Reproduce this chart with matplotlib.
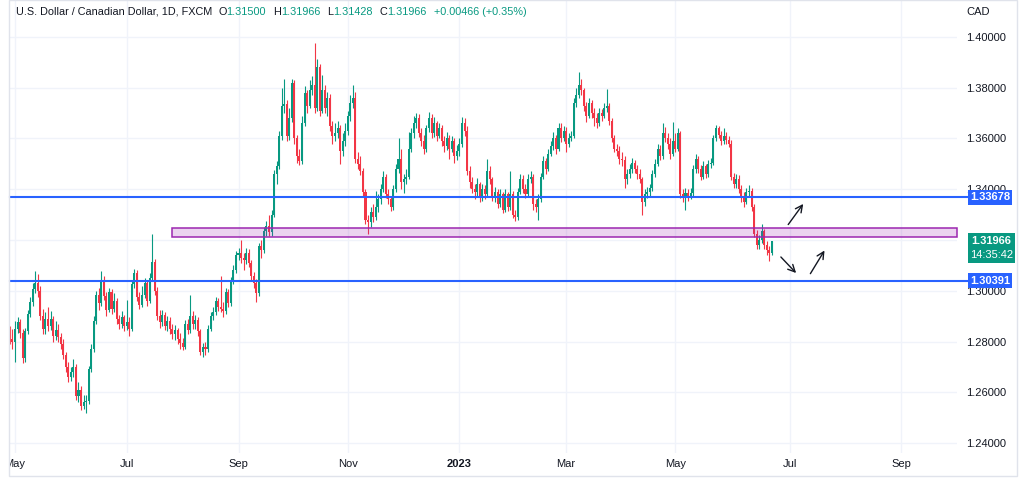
import matplotlib
matplotlib.use('Agg')
import matplotlib.pyplot as plt
import matplotlib.transforms as mtransforms
from matplotlib.patches import Rectangle
import numpy as np
import pandas as pd

plt.rcParams['font.family'] = ['Liberation Sans', 'DejaVu Sans']

GREEN = '#089981'
RED = '#F23645'
BLUE = '#2962FF'
TEXT = '#131722'
GRID = '#F0F3FA'

# daily USD/CAD bars, 2022-04-28 .. 2023-06-22 (one row per month)
first_date = '2022-04-28'
first_open = 1.2835
closes = [
    1.2810, 1.2800,
    1.2850, 1.2876, 1.2835, 1.2735, 1.2840, 1.2910, 1.2955, 1.3005, 1.3030, 1.3000, 1.2900, 1.2850, 1.2890, 1.2860, 1.2890, 1.2820, 1.2845, 1.2818, 1.2790, 1.2745, 1.2700, 1.2660,
    1.2680, 1.2700, 1.2585, 1.2610, 1.2545, 1.2560, 1.2565, 1.2690, 1.2770, 1.2880, 1.2985, 1.2950, 1.3040, 1.2980, 1.2925, 1.2995, 1.2930, 1.2960, 1.2890, 1.2870, 1.2895, 1.2860,
    1.2875, 1.2850, 1.3025, 1.3070, 1.2975, 1.2945, 1.2985, 1.3030, 1.2960, 1.3050, 1.3115, 1.3000, 1.2900, 1.2875, 1.2905, 1.2860, 1.2880, 1.2850, 1.2830, 1.2845, 1.2810,
    1.2795, 1.2780, 1.2870, 1.2845, 1.2900, 1.2870, 1.2885, 1.2840, 1.2760, 1.2780, 1.2770, 1.2850, 1.2900, 1.2915, 1.2960, 1.2935, 1.2930, 1.2920, 1.2995, 1.2950, 1.3040, 1.3080, 1.3140,
    1.3150, 1.3130, 1.3120, 1.3150, 1.3110, 1.3060, 1.3030, 1.2990, 1.3175, 1.3160, 1.3235, 1.3255, 1.3230, 1.3300, 1.3460, 1.3490, 1.3610, 1.3730, 1.3735, 1.3610, 1.3680, 1.3820,
    1.3600, 1.3530, 1.3510, 1.3660, 1.3780, 1.3730, 1.3790, 1.3810, 1.3720, 1.3880, 1.3710, 1.3790, 1.3720, 1.3760, 1.3650, 1.3610, 1.3620, 1.3640, 1.3550, 1.3590, 1.3630,
    1.3690, 1.3740, 1.3760, 1.3520, 1.3500, 1.3470, 1.3390, 1.3280, 1.3270, 1.3310, 1.3290, 1.3330, 1.3360, 1.3400, 1.3450, 1.3380, 1.3360, 1.3330, 1.3400, 1.3480, 1.3520, 1.3430,
    1.3440, 1.3450, 1.3560, 1.3620, 1.3660, 1.3680, 1.3620, 1.3590, 1.3560, 1.3640, 1.3680, 1.3620, 1.3660, 1.3610, 1.3640, 1.3590, 1.3570, 1.3600, 1.3560, 1.3590, 1.3530, 1.3550,
    1.3580, 1.3660, 1.3630, 1.3470, 1.3430, 1.3400, 1.3390, 1.3420, 1.3370, 1.3400, 1.3380, 1.3470, 1.3440, 1.3370, 1.3390, 1.3340, 1.3380, 1.3320, 1.3380, 1.3330, 1.3380, 1.3300,
    1.3290, 1.3390, 1.3440, 1.3400, 1.3380, 1.3440, 1.3450, 1.3340, 1.3330, 1.3360, 1.3450, 1.3510, 1.3480, 1.3540, 1.3570, 1.3600, 1.3560, 1.3640, 1.3600, 1.3630,
    1.3580, 1.3600, 1.3610, 1.3740, 1.3770, 1.3810, 1.3790, 1.3730, 1.3690, 1.3740, 1.3700, 1.3680, 1.3660, 1.3700, 1.3690, 1.3720, 1.3730, 1.3670, 1.3600, 1.3560, 1.3550, 1.3520, 1.3515,
    1.3440, 1.3460, 1.3480, 1.3505, 1.3480, 1.3460, 1.3440, 1.3350, 1.3380, 1.3390, 1.3405, 1.3460, 1.3500, 1.3560, 1.3530, 1.3620, 1.3600, 1.3580, 1.3540, 1.3590,
    1.3560, 1.3620, 1.3380, 1.3370, 1.3385, 1.3375, 1.3385, 1.3480, 1.3520, 1.3480, 1.3450, 1.3490, 1.3460, 1.3500, 1.3505, 1.3600, 1.3640, 1.3615, 1.3590, 1.3610, 1.3595, 1.3580, 1.3450,
    1.3420, 1.3440, 1.3400, 1.3370, 1.3350, 1.3390, 1.3395, 1.3330, 1.3225, 1.3180, 1.3200, 1.3235, 1.3180, 1.3160, 1.3150, 1.31966,
]
highs = [
    1.2860, 1.2850,
    1.2880, 1.2895, 1.2890, 1.2850, 1.2855, 1.2925, 1.2975, 1.3030, 1.3077, 1.3065, 1.3020, 1.2930, 1.2915, 1.2935, 1.2920, 1.2900, 1.2880, 1.2870, 1.2835, 1.2810, 1.2760, 1.2720,
    1.2700, 1.2730, 1.2710, 1.2640, 1.2625, 1.2590, 1.2590, 1.2705, 1.2790, 1.2900, 1.3000, 1.3010, 1.3078, 1.3060, 1.2995, 1.3010, 1.3005, 1.2990, 1.2970, 1.2905, 1.2920, 1.2905,
    1.2965, 1.2895, 1.3040, 1.3085, 1.3080, 1.2995, 1.3020, 1.3050, 1.3040, 1.3070, 1.3224, 1.3125, 1.3015, 1.2925, 1.2925, 1.2915, 1.2900, 1.2895, 1.2870, 1.2865, 1.2855,
    1.2835, 1.2815, 1.2885, 1.2890, 1.2985, 1.2920, 1.2905, 1.2895, 1.2850, 1.2795, 1.2800, 1.2865, 1.2915, 1.2935, 1.2975, 1.2970, 1.3060, 1.2955, 1.3010, 1.3005, 1.3055, 1.3100, 1.3155,
    1.3170, 1.3200, 1.3150, 1.3170, 1.3165, 1.3120, 1.3075, 1.3045, 1.3190, 1.3200, 1.3250, 1.3275, 1.3300, 1.3320, 1.3475, 1.3510, 1.3630, 1.3800, 1.3835, 1.3750, 1.3720, 1.3835,
    1.3830, 1.3615, 1.3560, 1.3690, 1.3805, 1.3790, 1.3830, 1.3845, 1.3977, 1.3915, 1.3895, 1.3850, 1.3810, 1.3785, 1.3775, 1.3670, 1.3660, 1.3670, 1.3655, 1.3620, 1.3660,
    1.3710, 1.3770, 1.3810, 1.3785, 1.3545, 1.3530, 1.3485, 1.3400, 1.3300, 1.3330, 1.3340, 1.3395, 1.3380, 1.3420, 1.3470, 1.3460, 1.3400, 1.3375, 1.3415, 1.3500, 1.3600, 1.3560,
    1.3460, 1.3480, 1.3625, 1.3640, 1.3690, 1.3700, 1.3695, 1.3640, 1.3615, 1.3655, 1.3703, 1.3695, 1.3685, 1.3670, 1.3660, 1.3655, 1.3610, 1.3625, 1.3615, 1.3610, 1.3600, 1.3575,
    1.3600, 1.3685, 1.3680, 1.3650, 1.3490, 1.3450, 1.3420, 1.3445, 1.3430, 1.3420, 1.3415, 1.3520, 1.3490, 1.3450, 1.3410, 1.3400, 1.3400, 1.3390, 1.3400, 1.3390, 1.3470, 1.3395,
    1.3320, 1.3405, 1.3460, 1.3455, 1.3420, 1.3460, 1.3470, 1.3460, 1.3360, 1.3380, 1.3465, 1.3530, 1.3525, 1.3560, 1.3590, 1.3625, 1.3615, 1.3660, 1.3660, 1.3650,
    1.3645, 1.3620, 1.3630, 1.3760, 1.3800, 1.3862, 1.3835, 1.3800, 1.3745, 1.3760, 1.3750, 1.3720, 1.3700, 1.3720, 1.3715, 1.3740, 1.3795, 1.3740, 1.3680, 1.3615, 1.3580, 1.3570, 1.3545,
    1.3530, 1.3480, 1.3500, 1.3525, 1.3515, 1.3495, 1.3480, 1.3450, 1.3400, 1.3410, 1.3420, 1.3475, 1.3520, 1.3580, 1.3575, 1.3660, 1.3645, 1.3620, 1.3600, 1.3665,
    1.3620, 1.3640, 1.3630, 1.3400, 1.3405, 1.3400, 1.3405, 1.3495, 1.3540, 1.3530, 1.3495, 1.3510, 1.3500, 1.3515, 1.3525, 1.3615, 1.3655, 1.3650, 1.3630, 1.3640, 1.3625, 1.3610, 1.3595,
    1.3465, 1.3460, 1.3455, 1.3415, 1.3390, 1.3405, 1.3415, 1.3405, 1.3340, 1.3240, 1.3220, 1.3265, 1.3245, 1.3195, 1.3175, 1.31966,
]
lows = [
    1.2790, 1.2770,
    1.2720, 1.2835, 1.2815, 1.2715, 1.2720, 1.2830, 1.2895, 1.2940, 1.2990, 1.2975, 1.2885, 1.2830, 1.2830, 1.2840, 1.2845, 1.2800, 1.2805, 1.2800, 1.2770, 1.2730, 1.2680, 1.2640,
    1.2645, 1.2660, 1.2570, 1.2560, 1.2530, 1.2535, 1.2518, 1.2555, 1.2680, 1.2760, 1.2870, 1.2925, 1.2940, 1.2965, 1.2900, 1.2915, 1.2910, 1.2915, 1.2870, 1.2850, 1.2855, 1.2840,
    1.2845, 1.2820, 1.2840, 1.3010, 1.2960, 1.2930, 1.2935, 1.2970, 1.2940, 1.2950, 1.3040, 1.2985, 1.2885, 1.2855, 1.2860, 1.2845, 1.2840, 1.2830, 1.2810, 1.2805, 1.2790,
    1.2770, 1.2765, 1.2770, 1.2830, 1.2835, 1.2850, 1.2850, 1.2820, 1.2745, 1.2740, 1.2745, 1.2760, 1.2840, 1.2885, 1.2905, 1.2920, 1.2915, 1.2895, 1.2910, 1.2935, 1.2940, 1.3025, 1.3070,
    1.3120, 1.3110, 1.3080, 1.3105, 1.3095, 1.3040, 1.3010, 1.2955, 1.2980, 1.3130, 1.3150, 1.3215, 1.3215, 1.3215, 1.3290, 1.3420, 1.3480, 1.3595, 1.3700, 1.3590, 1.3595, 1.3665,
    1.3580, 1.3505, 1.3495, 1.3500, 1.3650, 1.3700, 1.3720, 1.3770, 1.3700, 1.3710, 1.3690, 1.3700, 1.3700, 1.3690, 1.3630, 1.3580, 1.3590, 1.3600, 1.3500, 1.3530, 1.3570,
    1.3615, 1.3670, 1.3720, 1.3505, 1.3480, 1.3455, 1.3375, 1.3265, 1.3225, 1.3250, 1.3270, 1.3280, 1.3310, 1.3340, 1.3390, 1.3365, 1.3340, 1.3315, 1.3320, 1.3390, 1.3465, 1.3400,
    1.3385, 1.3420, 1.3440, 1.3545, 1.3600, 1.3640, 1.3605, 1.3570, 1.3540, 1.3545, 1.3625, 1.3600, 1.3605, 1.3590, 1.3600, 1.3570, 1.3545, 1.3555, 1.3520, 1.3545, 1.3505, 1.3515,
    1.3530, 1.3565, 1.3610, 1.3455, 1.3405, 1.3385, 1.3360, 1.3375, 1.3350, 1.3355, 1.3360, 1.3370, 1.3420, 1.3355, 1.3350, 1.3325, 1.3330, 1.3305, 1.3310, 1.3315, 1.3320, 1.3285,
    1.3275, 1.3280, 1.3380, 1.3385, 1.3365, 1.3370, 1.3425, 1.3320, 1.3310, 1.3279, 1.3350, 1.3440, 1.3460, 1.3470, 1.3530, 1.3555, 1.3540, 1.3550, 1.3585, 1.3590,
    1.3545, 1.3565, 1.3590, 1.3600, 1.3725, 1.3760, 1.3770, 1.3710, 1.3665, 1.3680, 1.3680, 1.3650, 1.3640, 1.3650, 1.3670, 1.3680, 1.3705, 1.3655, 1.3585, 1.3545, 1.3530, 1.3500, 1.3490,
    1.3405, 1.3420, 1.3445, 1.3465, 1.3465, 1.3440, 1.3425, 1.3300, 1.3335, 1.3365, 1.3375, 1.3395, 1.3450, 1.3490, 1.3515, 1.3520, 1.3585, 1.3560, 1.3520, 1.3530,
    1.3545, 1.3550, 1.3365, 1.3350, 1.3320, 1.3355, 1.3360, 1.3375, 1.3465, 1.3465, 1.3435, 1.3440, 1.3445, 1.3450, 1.3485, 1.3495, 1.3590, 1.3600, 1.3575, 1.3580, 1.3580, 1.3565, 1.3435,
    1.3405, 1.3405, 1.3385, 1.3350, 1.3330, 1.3340, 1.3370, 1.3315, 1.3210, 1.3165, 1.3165, 1.3190, 1.3165, 1.3140, 1.3117, 1.31428,
]

# drawings
resistance = 1.33678
support = 1.30391
zone_low, zone_high = 1.3211, 1.3248
zone_start = '2022-07-27'
# arrows as (bar index, price) -> (bar index, price)
arrows = [((305.8, 1.3252), (313.0, 1.3351)),
          ((302.8, 1.3141), (310.3, 1.3062)),
          ((314.6, 1.3058), (321.3, 1.3168))]

price_ticks = [1.24, 1.26, 1.28, 1.30, 1.32, 1.34, 1.36, 1.38, 1.40]
header = [('U.S. Dollar / Canadian Dollar, 1D, FXCM', TEXT, 6),
          ('O', TEXT, 0), ('1.31500', GREEN, 7),
          ('H', TEXT, 0), ('1.31966', GREEN, 7),
          ('L', TEXT, 0), ('1.31428', GREEN, 7),
          ('C', TEXT, 0), ('1.31966', GREEN, 7),
          ('+0.00466 (+0.35%)', GREEN, 0)]
countdown = '14:35:42'

W, H = 1024, 478
fig = plt.figure(figsize=(W / 100, H / 100), dpi=100)
fig.patch.set_facecolor('white')
ax = fig.add_axes([10 / W, 1 - 453 / H, 947 / W, 453 / H])
for s in ax.spines.values():
    s.set_visible(False)

c = np.array(closes)
h = np.array(highs)
l = np.array(lows)
o = np.concatenate([[first_open], c[:-1]])
x = np.arange(len(c))
cols = np.where(c >= o, GREEN, RED)

ax.vlines(x, l, h, colors=cols, linewidth=0.8, zorder=3)
ax.bar(x, np.maximum(np.abs(c - o), 0.00015), bottom=np.minimum(o, c), width=0.8,
       color=cols, linewidth=0, zorder=4)

# time axis from business days (includes the empty future)
dates = pd.bdate_range(first_date, '2023-10-31')
tick_pos, tick_lab = [], []
for k in range(1, len(dates)):
    if dates[k].month != dates[k - 1].month and dates[k].month % 2 == 1:
        tick_pos.append(k)
        tick_lab.append(str(dates[k].year) if dates[k].month == 1 else dates[k].strftime('%b'))

ax.set_xlim(0.03, 372.9)
ax.set_ylim(1.23606, 1.41458)
ax.set_axisbelow(True)
ax.grid(True, color=GRID, linewidth=1)

ax.set_xticks(tick_pos)
ax.set_xticklabels(tick_lab)
ax.yaxis.tick_right()
ax.set_yticks(price_ticks)
# 1.32000 sits fully behind the last-price box, so it gets no text
ax.set_yticklabels(['' if abs(p - 1.32) < 1e-9 else '%.5f' % p for p in price_ticks])
ax.tick_params(axis='both', length=0, labelsize=8, labelcolor=TEXT)
ax.tick_params(axis='y', pad=6.5)
ax.tick_params(axis='x', pad=4)
clip = mtransforms.TransformedBbox(mtransforms.Bbox([[10 / W, 0], [1, 1]]), fig.transFigure)
for lab in ax.get_xticklabels():
    if lab.get_text() == '2023':
        lab.set_fontweight('bold')
    lab.set_clip_on(True)
    lab.set_clip_box(clip)

# support / resistance lines and zone
for lvl in (resistance, support):
    ax.axhline(lvl, xmin=0, xmax=(968 - 10) / 947, color=BLUE, lw=1.5, zorder=6, clip_on=False)
z0 = len(pd.bdate_range(first_date, zone_start)) - 1
ax.add_patch(Rectangle((z0, zone_low), 372.9 - z0, zone_high - zone_low,
                       facecolor=(156 / 255, 39 / 255, 176 / 255, 0.2),
                       edgecolor='#9C27B0', lw=1.1, zorder=5, clip_on=False))

for (x0, y0), (x1, y1) in arrows:
    ax.annotate('', xy=(x1, y1), xytext=(x0, y0),
                arrowprops=dict(arrowstyle='->,head_length=0.5,head_width=0.25',
                                color=TEXT, lw=1.0), zorder=7)

# price scale labels
trans = mtransforms.blended_transform_factory(fig.transFigure, ax.transData)
half = 7.5 / 2537.5
for lvl in (resistance, support):
    ax.add_patch(Rectangle((968 / W, lvl - half), 44 / W, 2 * half, transform=trans,
                           facecolor=BLUE, edgecolor='none', clip_on=False, zorder=10))
    ax.text(990 / W, lvl, '%.5f' % lvl, transform=trans, ha='center', va='center',
            color='white', fontsize=8, fontweight='bold', clip_on=False, zorder=11)
last = closes[-1]
ax.add_patch(Rectangle((968 / W, last - 22 / 2537.5), 47 / W, 30 / 2537.5, transform=trans,
                       facecolor=GREEN, edgecolor='none', clip_on=False, zorder=10))
ax.text(991.5 / W, last, '%.5f' % last, transform=trans, ha='center', va='center',
        color='white', fontsize=8, fontweight='bold', clip_on=False, zorder=11)
ax.text(991.5 / W, last - 14.5 / 2537.5, countdown, transform=trans, ha='center', va='center',
        color='white', fontsize=8, clip_on=False, zorder=11)

# header line
fig.canvas.draw()
r = fig.canvas.get_renderer()
xp = 16
for txt, col, gap in header:
    t = fig.text(xp / W, 1 - 12 / H, txt, color=col, fontsize=7.8, ha='left', va='center')
    xp += t.get_window_extent(renderer=r).width + gap
fig.text(978 / W, 1 - 12 / H, 'CAD', color=TEXT, fontsize=8, ha='center', va='center')

# widget border
fig.add_artist(Rectangle((9 / W, 2 / H), 1008 / W, 1 - 2 / H, transform=fig.transFigure,
                         fill=False, edgecolor='#E0E3EB', lw=1))

fig.savefig('out.png', dpi=100, facecolor='white')
